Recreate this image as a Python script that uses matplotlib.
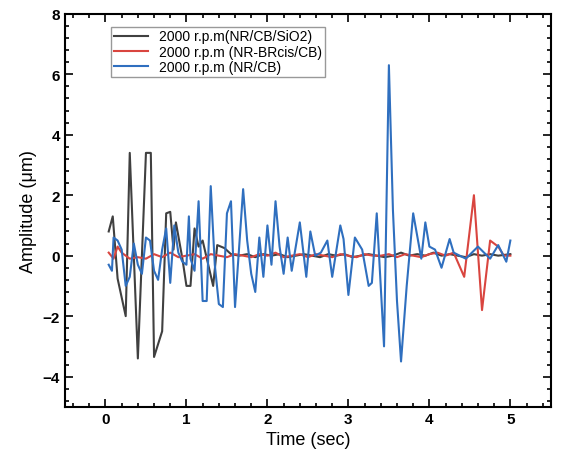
import matplotlib
matplotlib.use("Agg")
import matplotlib.pyplot as plt
from matplotlib.ticker import MultipleLocator

black_x = [0.04,0.09,0.15,0.25,0.30,0.40,0.50,0.56,0.60,0.70,0.75,0.80,0.84,0.87,0.95,1.00,1.05,1.10,1.15,1.20,1.33,1.38,1.47,
           1.55,1.65,1.75,1.85,1.95,2.05,2.15,2.25,2.35,2.45,2.55,2.65,2.75,2.85,2.95,3.05,3.15,3.25,3.35,3.45,3.55,3.65,
           3.75,3.85,3.95,4.05,4.15,4.25,4.35,4.45,4.55,4.65,4.75,4.85,5.00]
black_y = [0.8,1.3,-0.76,-2.0,3.4,-3.4,3.4,3.4,-3.35,-2.5,1.4,1.45,0.2,1.1,-0.1,-1.0,-1.0,0.9,0.3,0.5,-1.0,0.35,0.25,
           0.05,0.0,0.05,-0.05,0.05,0.0,0.05,-0.05,0.0,0.05,0.0,-0.05,0.05,0.0,0.05,-0.05,0.0,0.05,0.0,-0.05,0.0,0.1,
           0.0,0.05,0.0,0.1,0.0,0.05,0.0,-0.05,0.05,0.0,0.05,0.0,0.05]

red_x = [0.04,0.10,0.15,0.20,0.30,0.40,0.50,0.60,0.70,0.80,0.90,1.00,1.10,1.20,1.30,1.40,1.50,1.60,1.70,1.80,1.90,2.00,
         2.10,2.20,2.30,2.40,2.50,2.60,2.70,2.80,2.90,3.00,3.10,3.20,3.30,3.40,3.50,3.60,3.70,3.80,3.90,4.00,4.10,4.20,
         4.30,4.43,4.55,4.65,4.75,4.85,4.92,5.00]
red_y = [0.1,-0.1,0.3,0.1,-0.1,-0.05,-0.1,0.05,-0.05,0.1,-0.05,0.0,0.05,-0.1,0.05,0.0,-0.05,0.05,0.0,-0.05,0.05,0.0,
         0.1,-0.05,0.0,0.05,-0.05,0.05,0.0,-0.05,0.05,0.0,-0.05,0.05,0.0,0.0,0.05,-0.05,0.05,0.0,-0.05,0.05,0.1,0.0,
         0.1,-0.7,2.0,-1.8,0.5,0.3,0.0,0.0]

blue_x = [0.04,0.08,0.10,0.15,0.20,0.25,0.30,0.35,0.40,0.45,0.50,0.55,0.60,0.65,0.70,0.75,0.80,0.85,0.90,0.95,1.00,1.03,
          1.05,1.10,1.15,1.20,1.25,1.30,1.35,1.40,1.45,1.50,1.55,1.60,1.70,1.75,1.80,1.85,1.90,1.95,2.00,2.05,2.10,2.15,
          2.20,2.25,2.30,2.40,2.48,2.53,2.59,2.66,2.74,2.80,2.90,2.94,3.00,3.08,3.17,3.25,3.29,3.35,3.44,3.50,3.55,3.60,
          3.65,3.72,3.80,3.90,3.95,4.00,4.07,4.15,4.25,4.30,4.45,4.60,4.75,4.85,4.95,5.00]
blue_y = [-0.3,-0.5,0.6,0.5,0.2,-1.0,-0.7,0.4,-0.3,-0.6,0.6,0.5,-0.5,-0.8,0.2,0.9,-0.9,1.0,0.1,-0.2,-0.3,1.3,
          -0.1,-0.5,1.8,-1.5,-1.5,2.3,-0.3,-1.6,-1.7,1.4,1.8,-1.7,2.2,0.5,-0.6,-1.2,0.6,-0.7,1.0,-0.3,1.8,0.3,
          -0.6,0.6,-0.5,1.1,-0.7,0.8,0.0,0.1,0.5,-0.7,1.0,0.55,-1.3,0.6,0.2,-1.0,-0.9,1.4,-3.0,6.3,1.5,-1.5,
          -3.5,-1.0,1.4,-0.1,1.1,0.3,0.2,-0.4,0.55,0.1,-0.1,0.3,-0.1,0.35,-0.2,0.5]

plt.rcParams['font.family'] = ['Liberation Sans', 'DejaVu Sans']
fig = plt.figure(figsize=(5.75, 4.77), dpi=100)
ax = fig.add_axes([0.113, 0.145, 0.845, 0.824])
ax.plot(black_x, black_y, color='#404040', lw=1.5, label='2000 r.p.m(NR/CB/SiO2)')
ax.plot(red_x, red_y, color='#d9453f', lw=1.5, label='2000 r.p.m (NR-BRcis/CB)')
ax.plot(blue_x, blue_y, color='#2f6fbf', lw=1.5, label='2000 r.p.m (NR/CB)')
ax.set_xlim(-0.5, 5.5)
ax.set_ylim(-5, 8)
ax.xaxis.set_major_locator(MultipleLocator(1))
ax.xaxis.set_minor_locator(MultipleLocator(0.2))
ax.yaxis.set_major_locator(MultipleLocator(2))
ax.yaxis.set_minor_locator(MultipleLocator(0.4))
ax.tick_params(which='both', direction='in', top=True, right=True, width=1.2)
ax.tick_params(which='major', length=6, labelsize=11)
ax.tick_params(which='minor', length=3)
for lab in ax.get_xticklabels() + ax.get_yticklabels():
    lab.set_fontweight('bold')
for s in ax.spines.values():
    s.set_linewidth(1.5)
ax.set_xlabel('Time (sec)', fontsize=13)
ax.set_ylabel('Amplitude (μm)', fontsize=13)
leg = ax.legend(loc='upper left', bbox_to_anchor=(0.08, 0.985), fontsize=10, fancybox=False,
                edgecolor='#999999', framealpha=1, handlelength=2.5, borderpad=0.2, labelspacing=0.1)
fig.savefig('out.png', dpi=100)
